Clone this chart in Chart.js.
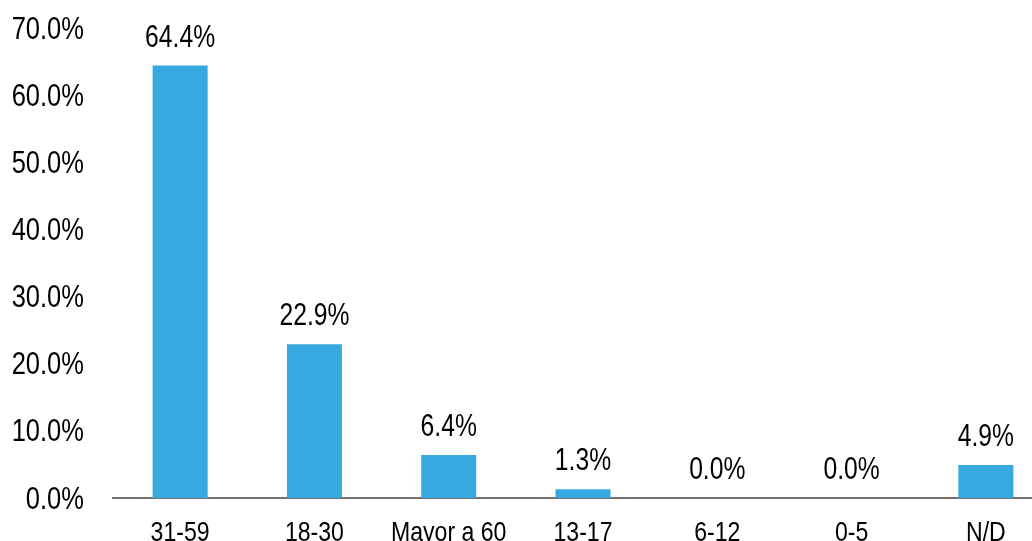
<!DOCTYPE html>
<html>
<head>
<meta charset="utf-8">
<script src="https://cdn.jsdelivr.net/npm/chart.js@4"></script>
<style>
  html, body { margin: 0; padding: 0; background: #fff; overflow: hidden; }
  canvas { display: block; }
</style>
</head>
<body>
<canvas id="chart" width="1060" height="541"></canvas>
<script>
// age groups and share of cases (%)
const categories = ['31-59', '18-30', 'Mayor a 60', '13-17', '6-12', '0-5', 'N/D'];
const shares = [64.4, 22.9, 6.4, 1.3, 0.0, 0.0, 4.9];
const yTicks = [0, 10, 20, 30, 40, 50, 60, 70];

const FAMILY = '"Liberation Sans", Arial, sans-serif';
const NARROW = 0.81; // squeeze regular sans to a narrow look

// draw text horizontally condensed, anchored at (x, y)
function narrowText(ctx, text, x, y, size, align) {
    ctx.save();
    ctx.font = size + 'px ' + FAMILY;
    ctx.fillStyle = '#000';
    ctx.textAlign = align;
    ctx.textBaseline = 'alphabetic';
    ctx.translate(x, y);
    ctx.scale(NARROW, 1);
    ctx.fillText(text, 0, 0);
    ctx.restore();
}

// tick labels for both axes + the value above each bar
const narrowLabels = {
    id: 'narrowLabels',
    afterDraw(chart) {
        const ctx = chart.ctx;
        const xs = chart.scales.x, ys = chart.scales.y;
        yTicks.forEach(v => {
            narrowText(ctx, v.toFixed(1) + '%', xs.left - 29, ys.getPixelForValue(v) + 10.5, 31.5, 'right');
        });
        categories.forEach((c, i) => {
            narrowText(ctx, c, xs.getPixelForTick(i), xs.bottom, 28.5, 'center');
        });
        chart.getDatasetMeta(0).data.forEach((bar, i) => {
            narrowText(ctx, shares[i].toFixed(1) + '%', bar.x, bar.y - 19, 30.5, 'center');
        });
    }
};

new Chart(document.getElementById('chart'), {
    type: 'bar',
    data: {
        labels: categories,
        datasets: [{
            data: shares,
            backgroundColor: '#38A8E0',
            barPercentage: 0.41,
            categoryPercentage: 1.0
        }]
    },
    options: {
        responsive: false,
        animation: false,
        layout: { padding: { top: 28, right: 7, left: 0, bottom: 0 } },
        plugins: { legend: { display: false }, tooltip: { enabled: false } },
        scales: {
            x: {
                grid: { display: false, drawTicks: false },
                border: { display: true, color: '#767171', width: 2 },
                ticks: { display: false },
                afterFit(scale) { scale.height = 43; }
            },
            y: {
                min: 0,
                max: 70,
                grid: { display: false, drawTicks: false },
                border: { display: false },
                afterBuildTicks(scale) { scale.ticks = yTicks.map(v => ({ value: v })); },
                ticks: { display: false },
                afterFit(scale) { scale.width = 113; }
            }
        }
    },
    plugins: [narrowLabels]
});
</script>
</body>
</html>
